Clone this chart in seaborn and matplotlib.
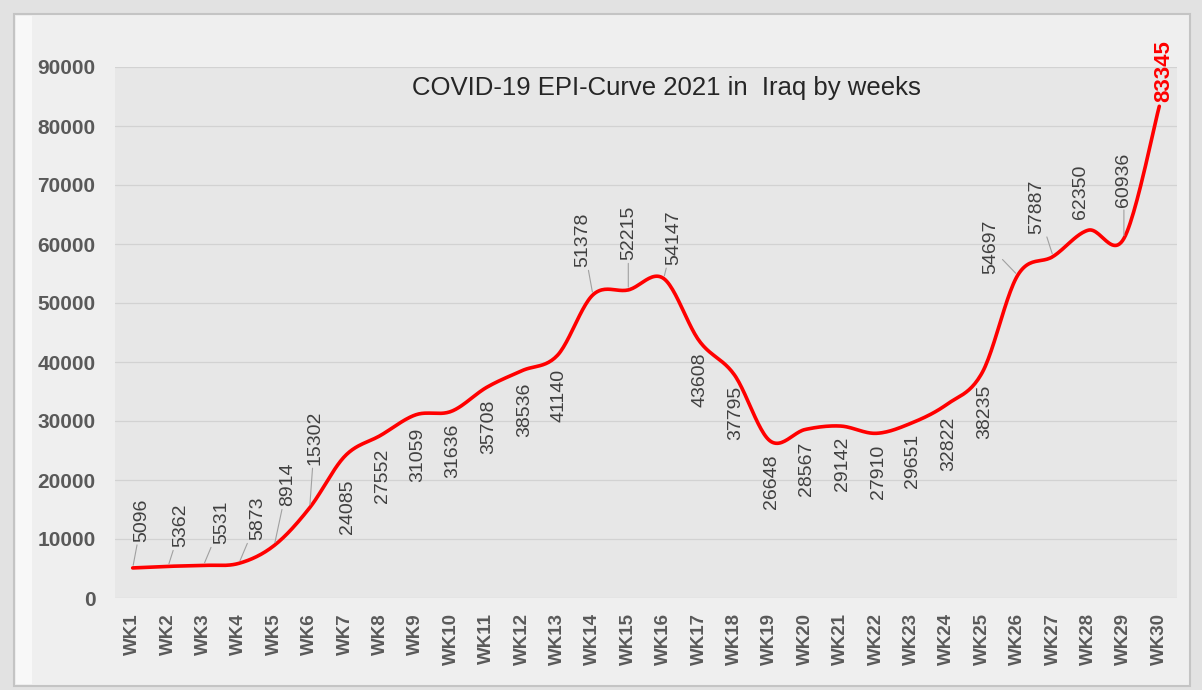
import matplotlib
matplotlib.use("Agg")
import matplotlib.pyplot as plt
import matplotlib.patches as mpatches
import seaborn as sns
import numpy as np
import pandas as pd

# weekly cases, Iraq 2021
weeks = [f"WK{i}" for i in range(1, 31)]
cases = [5096, 5362, 5531, 5873, 8914, 15302, 24085, 27552, 31059, 31636,
         35708, 38536, 41140, 51378, 52215, 54147, 43608, 37795, 26648, 28567,
         29142, 27910, 29651, 32822, 38235, 54697, 57887, 62350, 60936, 83345]

# label offsets from the point, in pixels (dx, dy downwards) and leader flag
lbl_dx = [9, 13, 18, 19, 13, 5, 2, 2, 2, 1, 2, 3, 2, -10, 0, 10, 1, 1, 2, 1,
          2, 2, 1, 2, 2, -27, -16, -8, 0, 4]
lbl_dy = [-48, -41, -43, -45, -61, -70, 51, 40, 40, 39, 39, 39, 40, -55, -57, -41, 39, 38, 41, 39,
          38, 39, 38, 39, 39, -28, -50, -38, -59, -35]
leader = [1, 1, 1, 1, 1, 1, 0, 0, 0, 0, 0, 0, 0, 1, 1, 1, 0, 0, 0, 0,
          0, 0, 0, 0, 0, 1, 1, 0, 1, 0]


def smooth_curve(vals, n=25):
    # excel style smoothed line (bezier through the points)
    pts = np.column_stack([np.arange(len(vals)), np.asarray(vals, float)])
    P = np.vstack([pts[0], pts, pts[-1]])
    t = np.linspace(0, 1, n)[:, None]
    segs = []
    for i in range(len(vals) - 1):
        p0, p1, p2, p3 = P[i], P[i + 1], P[i + 2], P[i + 3]
        c1 = p1 + (p2 - p0) / 6
        c2 = p2 - (p3 - p1) / 6
        b = (1 - t) ** 3 * p1 + 3 * (1 - t) ** 2 * t * c1 + 3 * (1 - t) * t ** 2 * c2 + t ** 3 * p2
        segs.append(b if i == 0 else b[1:])
    b = np.vstack(segs)
    return pd.DataFrame({"x": b[:, 0], "y": b[:, 1]})


sns.set_style("white")
plt.rcParams['font.family'] = ['Liberation Sans', 'DejaVu Sans']

fig = plt.figure(figsize=(12.02, 6.90), dpi=100)
fig.patch.set_facecolor('#e2e2e2')
W, H = 1202, 690
fig.patches.append(mpatches.Rectangle((14 / W, 4 / H), 1176 / W, 672 / H, transform=fig.transFigure,
                                      facecolor='#efefef', edgecolor='#c4c4c4', lw=1.5, zorder=-2))
fig.patches.append(mpatches.Rectangle((16 / W, 6 / H), 16 / W, 668 / H, transform=fig.transFigure,
                                      facecolor='#f8f8f8', edgecolor='none', zorder=-1))

ax = fig.add_axes([115 / W, 1 - 598 / H, 1062 / W, 531 / H])
ax.set_zorder(2)
ax.set_facecolor('#e7e7e7')

curve = smooth_curve(cases)
sns.lineplot(data=curve, x="x", y="y", sort=False, color='#ff0000', lw=2.6, ax=ax, zorder=3)

ax.set_xlim(-0.5, 29.5)
ax.set_ylim(0, 90000)
ax.set_yticks(np.arange(0, 90001, 10000))
ax.set_xticks(range(len(weeks)))
ax.set_xticklabels(weeks, rotation=90)
ax.tick_params(axis='y', length=0, pad=14, labelsize=15, labelcolor='#595959')
ax.tick_params(axis='x', length=0, pad=11, labelsize=13.5, labelcolor='#595959')
for lab in ax.get_xticklabels() + ax.get_yticklabels():
    lab.set_fontweight('bold')
ax.grid(axis='y', color='#d2d2d2', lw=0.9)
ax.grid(axis='x', visible=False)
for s in ax.spines.values():
    s.set_visible(False)
ax.set_xlabel('')
ax.set_ylabel('')

for i, v in enumerate(cases):
    last = i == len(cases) - 1
    arrow = dict(arrowstyle='-', color='#a0a0a0', lw=0.8, shrinkA=0, shrinkB=2) if leader[i] else None
    ax.annotate(str(v), xy=(i, v), xytext=(lbl_dx[i], -lbl_dy[i]), textcoords='offset pixels',
                rotation=90, ha='center', va='center',
                fontsize=16 if last else 14,
                fontweight='bold' if last else 'normal',
                color='#ff0000' if last else '#404040',
                arrowprops=arrow, zorder=4, annotation_clip=False)

fig.text(666 / W, 1 - 88 / H, 'COVID-19 EPI-Curve 2021 in  Iraq by weeks',
         ha='center', va='center', fontsize=18.5, color='#262626', zorder=5)

plt.savefig("out.png", dpi=100, facecolor=fig.get_facecolor())
